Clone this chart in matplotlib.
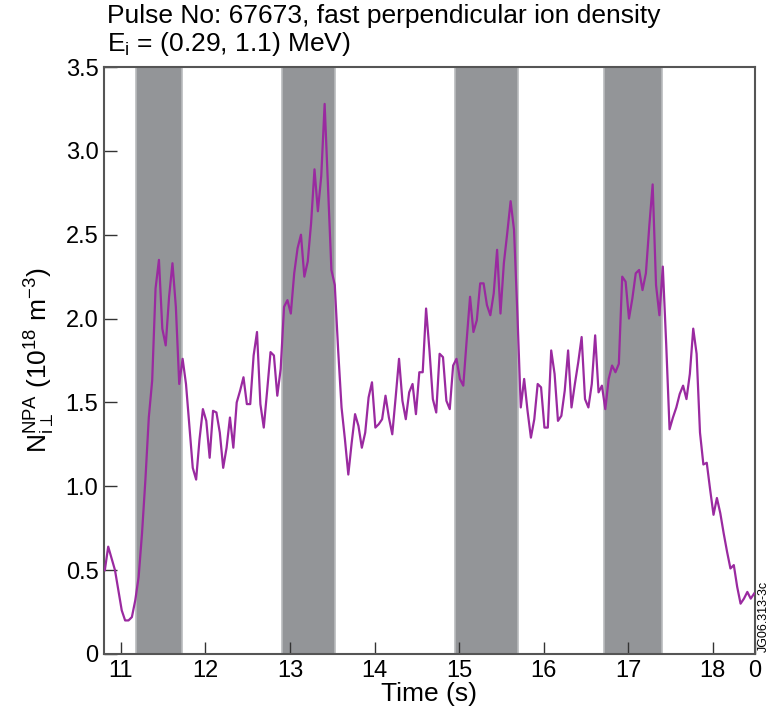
import numpy as np
import matplotlib
matplotlib.use("Agg")
import matplotlib.pyplot as plt

plt.rcParams['font.family'] = ['Liberation Sans', 'DejaVu Sans']
plt.rcParams['mathtext.fontset'] = 'custom'
plt.rcParams['mathtext.rm'] = 'Liberation Sans'
plt.rcParams['mathtext.it'] = 'Liberation Sans'

# NPA fast perpendicular ion density, sampled every 0.04 s from 10.81 s
t_start = 10.81
dt = 0.04
density = [
    0.50, 0.64, 0.57, 0.50, 0.38, 0.26, 0.20, 0.20, 0.22, 0.32,
    0.46, 0.72, 1.04, 1.41, 1.63, 2.18, 2.35, 1.94, 1.84, 2.13,
    2.33, 2.07, 1.61, 1.76, 1.61, 1.36, 1.11, 1.04, 1.28, 1.46,
    1.39, 1.17, 1.45, 1.44, 1.32, 1.11, 1.23, 1.41, 1.23, 1.50,
    1.57, 1.65, 1.49, 1.49, 1.78, 1.92, 1.49, 1.35, 1.57, 1.80,
    1.78, 1.54, 1.70, 2.07, 2.11, 2.03, 2.27, 2.42, 2.50, 2.25,
    2.34, 2.57, 2.89, 2.64, 2.85, 3.28, 2.79, 2.29, 2.20, 1.81,
    1.47, 1.28, 1.07, 1.26, 1.43, 1.36, 1.23, 1.32, 1.53, 1.62,
    1.35, 1.37, 1.40, 1.54, 1.41, 1.31, 1.53, 1.76, 1.51, 1.40,
    1.56, 1.61, 1.43, 1.68, 1.68, 2.06, 1.81, 1.52, 1.44, 1.79,
    1.77, 1.51, 1.46, 1.72, 1.76, 1.64, 1.60, 1.87, 2.13, 1.92,
    1.99, 2.21, 2.21, 2.08, 2.02, 2.15, 2.41, 2.03, 2.33, 2.51,
    2.70, 2.53, 2.03, 1.47, 1.64, 1.45, 1.29, 1.40, 1.61, 1.59,
    1.35, 1.35, 1.81, 1.67, 1.39, 1.42, 1.57, 1.81, 1.47, 1.61,
    1.74, 1.89, 1.52, 1.47, 1.61, 1.90, 1.56, 1.60, 1.46, 1.64,
    1.72, 1.68, 1.73, 2.25, 2.22, 2.00, 2.12, 2.27, 2.29, 2.17,
    2.27, 2.55, 2.80, 2.20, 2.02, 2.31, 1.85, 1.34, 1.41, 1.47,
    1.55, 1.60, 1.52, 1.67, 1.94, 1.79, 1.32, 1.13, 1.14, 0.98,
    0.83, 0.93, 0.84, 0.72, 0.61, 0.51, 0.53, 0.40, 0.30, 0.33,
    0.37, 0.33, 0.36,
]
time = t_start + dt * np.arange(len(density))

# shaded intervals (s)
band_start = [11.18, 12.90, 14.95, 16.71]
band_end = [11.72, 13.53, 15.70, 17.40]

xtick_pos = [11, 12, 13, 14, 15, 16, 17, 18, 18.5]
xtick_lab = ['11', '12', '13', '14', '15', '16', '17', '18', '0']
ytick_pos = [0, 0.5, 1.0, 1.5, 2.0, 2.5, 3.0, 3.5]
ytick_lab = ['0', '0.5', '1.0', '1.5', '2.0', '2.5', '3.0', '3.5']

fig = plt.figure(figsize=(7.68, 7.07), dpi=100)
ax = fig.add_axes([0.1354, 0.075, 0.8476, 0.8302])

for a, b in zip(band_start, band_end):
    ax.axvspan(a, b, facecolor='#939598', edgecolor='#b9bbbd', linewidth=1.2, zorder=1)

ax.plot(time, density, color='#9a2aa0', linewidth=1.6, zorder=3)

ax.set_xlim(10.8, 18.5)
ax.set_ylim(0, 3.5)
ax.set_xticks(xtick_pos)
ax.set_xticklabels(xtick_lab)
ax.set_yticks(ytick_pos)
ax.set_yticklabels(ytick_lab)
ax.tick_params(direction='in', length=9, width=1, labelsize=17, color='#333333', pad=4)

for s in ax.spines.values():
    s.set_color('#555555')
    s.set_linewidth(1.5)

ax.set_xlabel('Time (s)', fontsize=19, labelpad=0)
ax.set_ylabel(r'N$_{\mathrm{i}\perp}^{\mathrm{NPA}}$ (10$^{18}$ m$^{-3}$)', fontsize=19, labelpad=6)

fig.text(0.139, 0.994, 'Pulse No: 67673, fast perpendicular ion density', fontsize=19, va='top', ha='left')
fig.text(0.139, 0.958, r'E$_\mathrm{i}$ = (0.29, 1.1) MeV)', fontsize=19, va='top', ha='left')
fig.text(0.994, 0.078, 'JG06.313-3c', fontsize=9, rotation=90, va='bottom', ha='center')

fig.savefig('out.png', dpi=100)
